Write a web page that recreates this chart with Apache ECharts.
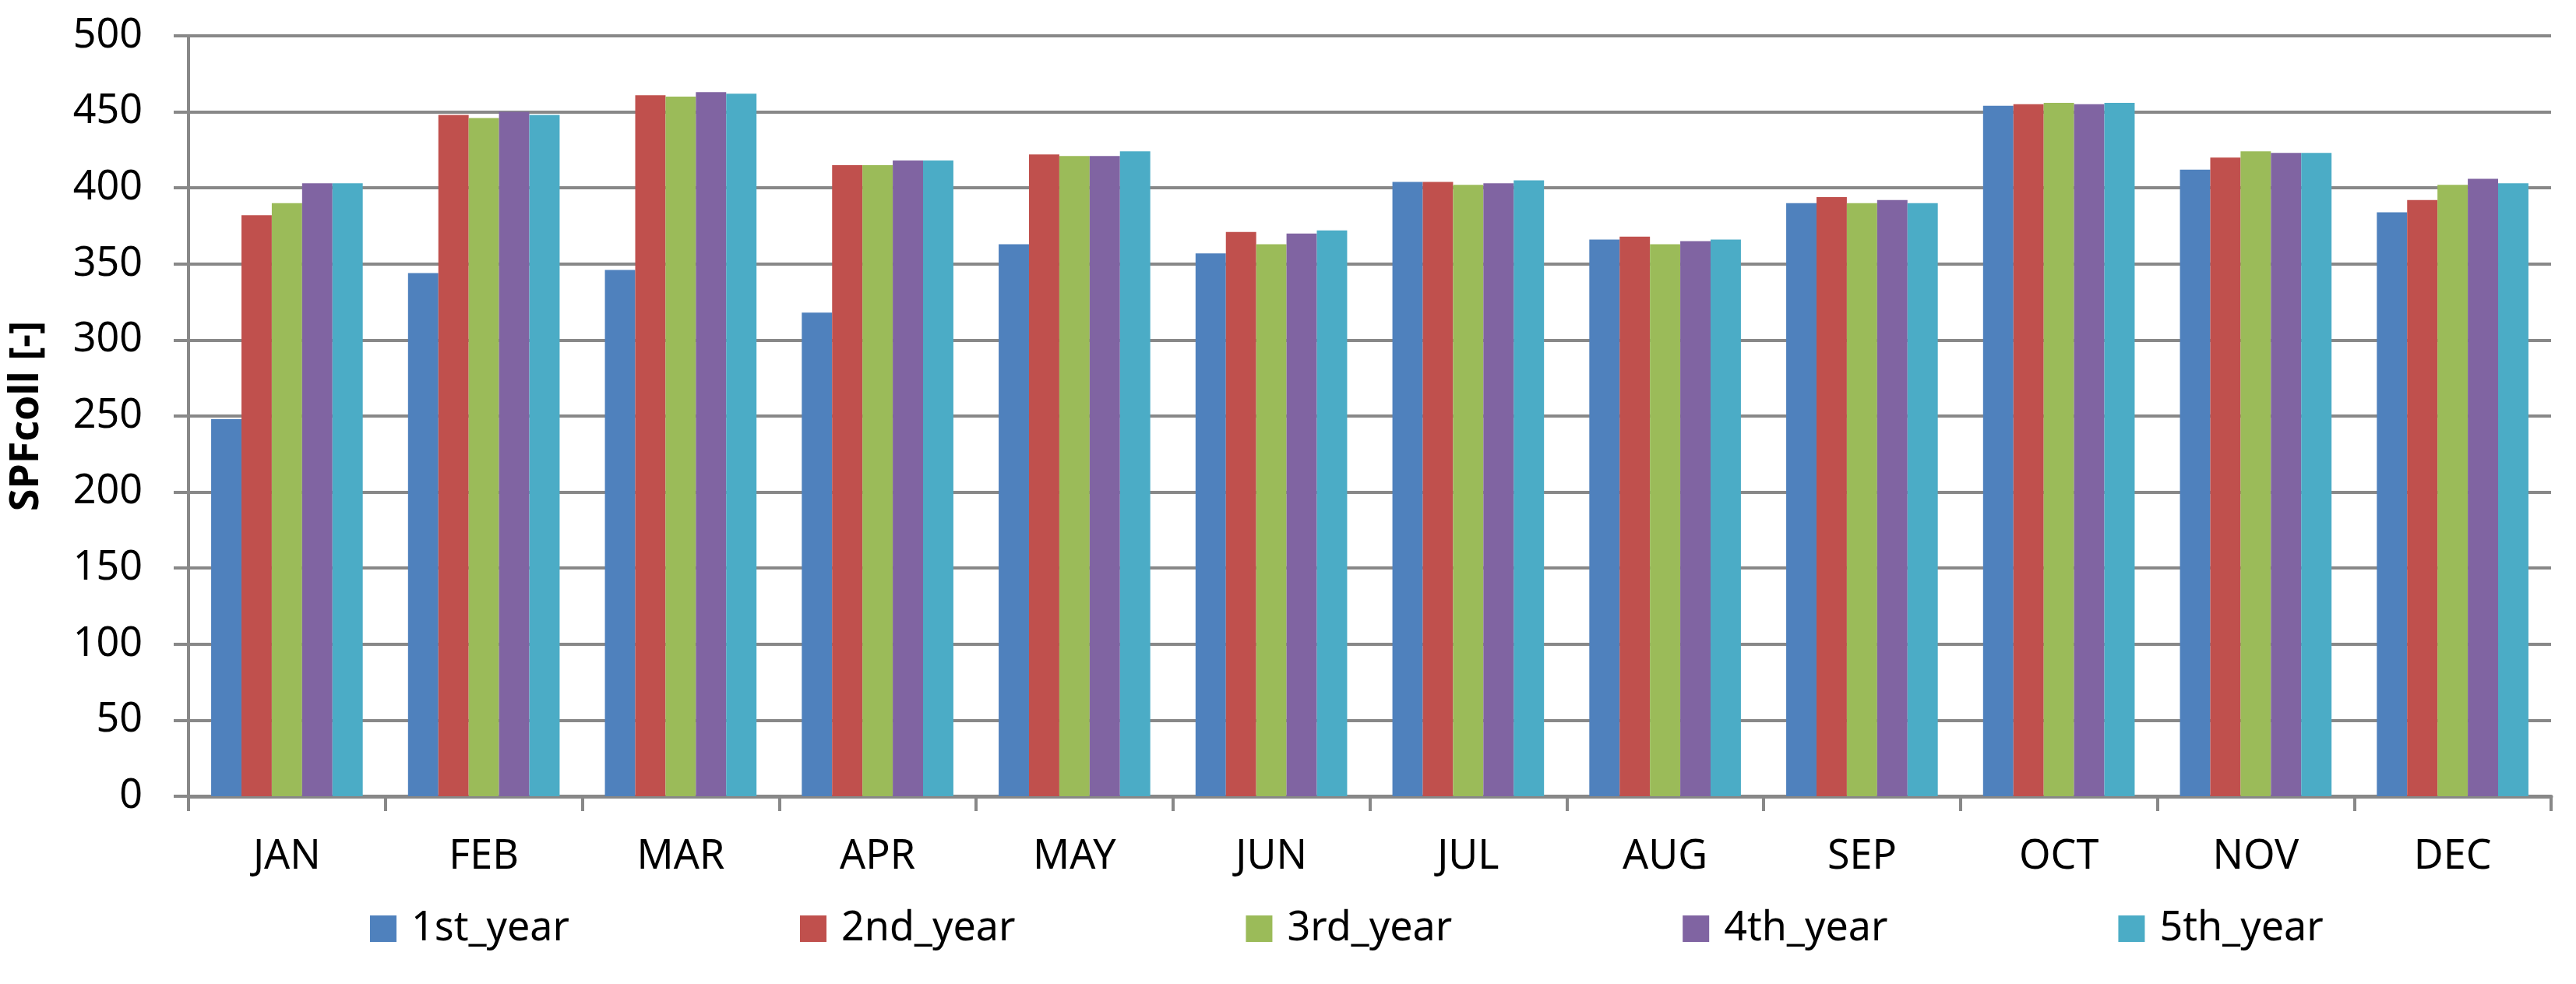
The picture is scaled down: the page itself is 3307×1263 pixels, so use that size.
<!DOCTYPE html>
<html>
<head>
<meta charset="utf-8">
<script src="https://cdn.jsdelivr.net/npm/echarts@6/dist/echarts.min.js"></script>
<style>
html,body{margin:0;padding:0;background:#fff;}
#chart{width:3307px;height:1263px;}
</style>
</head>
<body>
<div id="chart"></div>
<script>
const months = ['JAN','FEB','MAR','APR','MAY','JUN','JUL','AUG','SEP','OCT','NOV','DEC'];
const seriesNames = ['1st_year','2nd_year','3rd_year','4th_year','5th_year'];
const year1 = [248, 344, 346, 318, 363, 357, 404, 366, 390, 454, 412, 384];
const year2 = [382, 448, 461, 415, 422, 371, 404, 368, 394, 455, 420, 392];
const year3 = [390, 446, 460, 415, 421, 363, 402, 363, 390, 456, 424, 402];
const year4 = [403, 450, 463, 418, 421, 370, 403, 365, 392, 455, 423, 406];
const year5 = [403, 448, 462, 418, 424, 372, 405, 366, 390, 456, 423, 403];
const colors = ['#4F81BD','#C0504D','#9BBB59','#8064A2','#4BACC6'];
const yTitle = 'SPFcoll [-]';

const allData = [year1, year2, year3, year4, year5];
const FONT = 'Noto Sans';
const GRAY = '#888888';

const chart = echarts.init(document.getElementById('chart'), null, {renderer: 'canvas'});
chart.setOption({
  animation: false,
  color: colors,
  textStyle: {fontFamily: FONT},
  grid: {left: 237, right: 32, top: 46, bottom: 241, containLabel: false},
  legend: {
    data: seriesNames,
    left: 470,
    top: 1161,
    icon: 'rect',
    itemWidth: 34,
    itemHeight: 34,
    itemGap: 296,
    textStyle: {fontFamily: FONT, fontSize: 52, color: '#000', padding: [0, 0, 0, 14]}
  },
  xAxis: {
    type: 'category',
    data: months,
    boundaryGap: true,
    axisLine: {show: true, lineStyle: {color: GRAY, width: 5}},
    axisTick: {show: true, alignWithLabel: false, length: 19, lineStyle: {color: GRAY, width: 4}},
    axisLabel: {fontFamily: FONT, fontSize: 52, color: '#000', margin: 52, interval: 0},
    splitLine: {show: false}
  },
  yAxis: {
    type: 'value',
    min: 0,
    max: 500,
    interval: 50,
    name: yTitle,
    nameLocation: 'middle',
    nameRotate: 90,
    nameGap: 182,
    nameTextStyle: {fontFamily: FONT, fontSize: 52, fontWeight: 'bold', color: '#000'},
    axisLine: {show: true, lineStyle: {color: GRAY, width: 4}},
    axisTick: {show: true, length: 19, lineStyle: {color: GRAY, width: 4}},
    axisLabel: {fontFamily: FONT, fontSize: 52, color: '#000', margin: 59},
    splitLine: {show: true, lineStyle: {color: GRAY, width: 4}}
  },
  series: seriesNames.map((n, i) => ({
    name: n,
    type: 'bar',
    data: allData[i],
    barGap: '0%',
    barCategoryGap: '23%',
    itemStyle: {color: colors[i]}
  }))
});
</script>
</body>
</html>
